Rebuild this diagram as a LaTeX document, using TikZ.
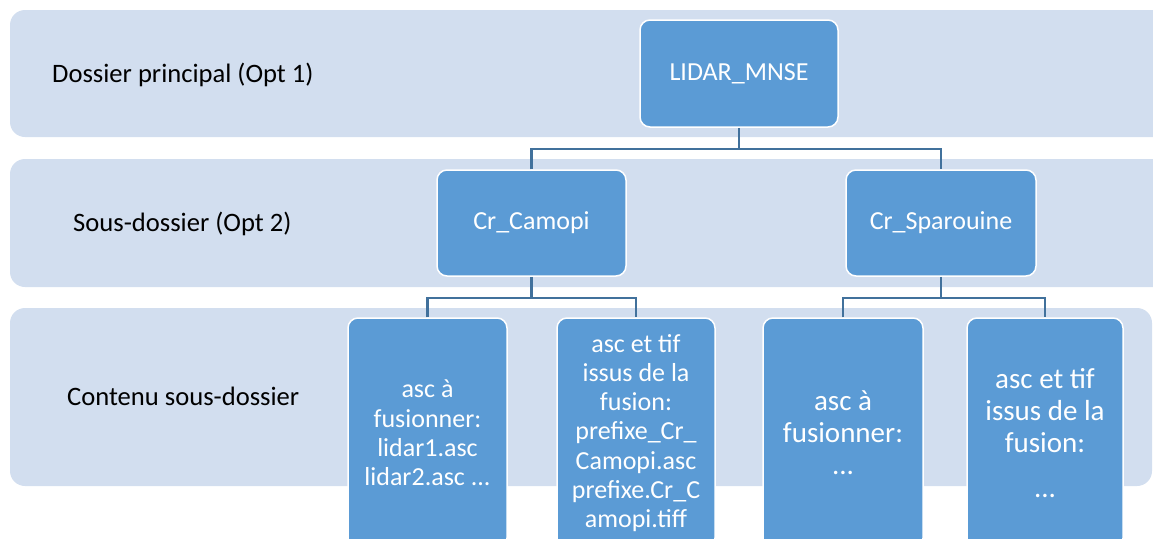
\documentclass[tikz,border=0pt]{standalone}
\usepackage{fontspec}
\setmainfont{Carlito}
\definecolor{bandcol}{RGB}{210,222,239}
\definecolor{boxcol}{RGB}{91,155,213}
\definecolor{linecol}{RGB}{65,113,156}
\tikzset{
  band/.style={fill=bandcol, draw=none, rounded corners=15pt},
  fbox/.style={draw=white, line width=1.5pt, fill=boxcol, rounded corners=10pt,
    text=white, align=center, inner sep=0pt, font=\fontsize{26}{29.3}\selectfont},
  bigtxt/.style={font=\fontsize{29}{32}\selectfont},
  conn/.style={draw=linecol, line width=2.3pt},
  lbl/.style={anchor=base west, inner sep=0pt, text=black, font=\fontsize{26.6}{30}\selectfont}
}
\begin{document}
\begin{tikzpicture}[x=1pt,y=-1pt]
\useasboundingbox (0,0) rectangle (1153,538);
\clip (0,0) rectangle (1153,538);
% bands
\fill[band] (10,10) rectangle (1175,137);
\fill[band] (10,159) rectangle (1175,287);
\fill[band] (10,308) rectangle (1152,486);
% row labels
\node[lbl] (l1) at (52,82) {Dossier principal (Opt 1)};
\node[lbl] (l2) at (73,231) {Sous-dossier (Opt 2)};
\node[lbl] (l3) at (67,405) {Contenu sous-dossier};
% boxes
\node[fbox, minimum width=198pt, minimum height=107pt] (lidar) at (739,73.5) {LIDAR\_MNSE};
\node[fbox, minimum width=189pt, minimum height=106pt] (camopi) at (531.5,223) {Cr\_Camopi};
\node[fbox, minimum width=190pt, minimum height=106pt] (spar) at (941,223) {Cr\_Sparouine};
\node[fbox, minimum width=159pt, minimum height=230pt] (c1) at (427.5,433)
  {asc à\\fusionner:\\lidar1.asc\\lidar2.asc ...};
\node[fbox, minimum width=158pt, minimum height=230pt] (c2) at (636,433)
  {asc et tif\\issus de la\\fusion:\\prefixe\_Cr\_\\Camopi.asc\\prefixe.Cr\_C\\amopi.tiff};
\node[fbox, bigtxt, minimum width=160pt, minimum height=230pt] (s1) at (843,433)
  {asc à\\fusionner:\\...};
\node[fbox, bigtxt, minimum width=156pt, minimum height=230pt] (s2) at (1045,433)
  {asc et tif\\issus de la\\fusion:\\[13pt]...};
% connectors
\path (lidar.south) ++(0,21.5) coordinate (j1);
\path (camopi.south) ++(0,21) coordinate (j2);
\path (spar.south) ++(0,21) coordinate (j3);
\draw[conn] (lidar.south) -- (j1);
\draw[conn] (camopi.north) |- (j1) -| (spar.north);
\draw[conn] (camopi.south) -- (j2);
\draw[conn] (c1.north) |- (j2) -| (c2.north);
\draw[conn] (spar.south) -- (j3);
\draw[conn] (s1.north) |- (j3) -| (s2.north);
\end{tikzpicture}
\end{document}
